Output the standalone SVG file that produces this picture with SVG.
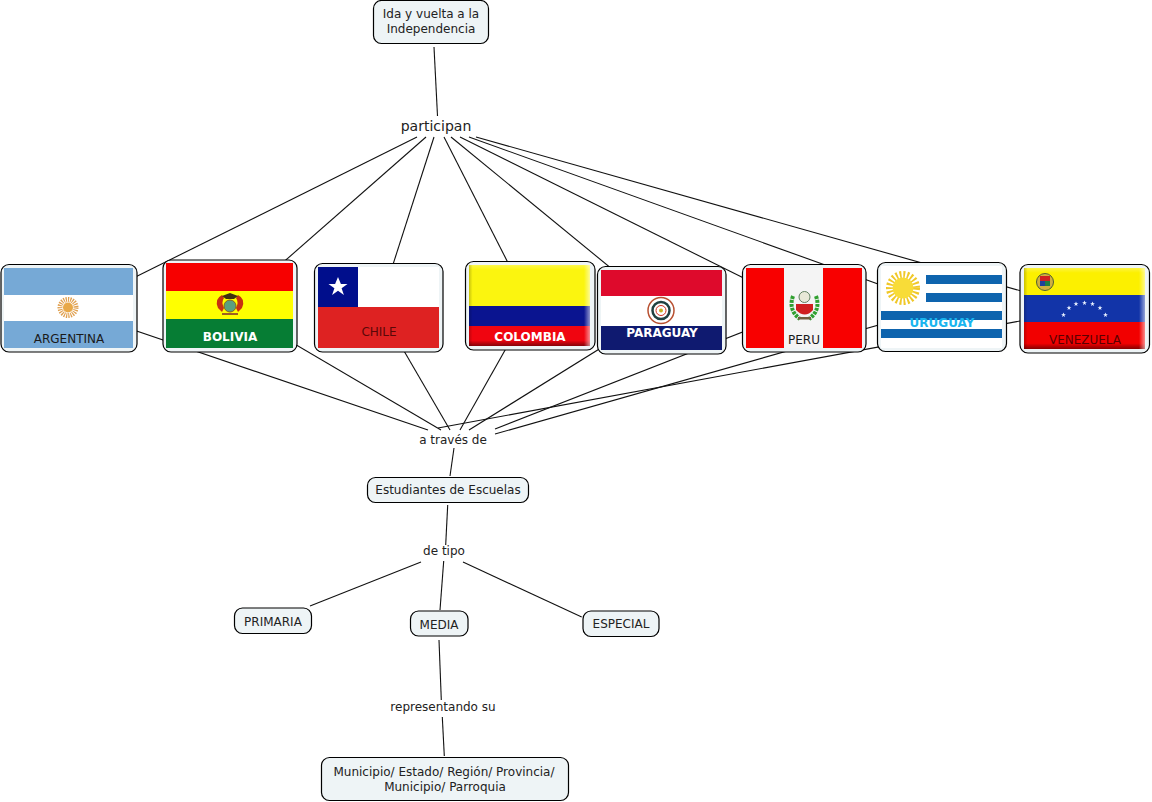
<svg xmlns="http://www.w3.org/2000/svg" xmlns:xlink="http://www.w3.org/1999/xlink" width="1152" height="802" viewBox="0 0 1152 802">
<style>
.box{fill:#EEF4F6;stroke:#000;stroke-width:1.2}
.c line{stroke:#111;stroke-width:1.1}
text{font-family:"DejaVu Sans",Verdana,sans-serif;font-size:12px;fill:#222;text-anchor:middle}
.b{font-weight:bold;fill:#fff;font-size:12px}
.k{fill:#1a1a1a}
</style>
<defs>
<linearGradient id="shB" x1="0" y1="0" x2="0" y2="1"><stop offset="0" stop-color="#fff" stop-opacity=".25"/><stop offset=".06" stop-color="#fff" stop-opacity="0"/><stop offset=".93" stop-color="#000" stop-opacity="0"/><stop offset="1" stop-color="#000" stop-opacity=".45"/></linearGradient>
<linearGradient id="shR" x1="0" y1="0" x2="1" y2="0"><stop offset="0" stop-color="#000" stop-opacity=".2"/><stop offset=".03" stop-color="#000" stop-opacity="0"/><stop offset=".95" stop-color="#fff" stop-opacity="0"/><stop offset="1" stop-color="#fff" stop-opacity=".55"/></linearGradient>
<polygon id="st" points="0,-1 .29,-.31 .95,-.31 .36,.12 .59,.81 0,.38 -.59,.81 -.36,.12 -.95,-.31 -.29,-.31"/>
</defs>
<g class="c" id="connectors">
<line x1="434" y1="47" x2="437.500" y2="116"/>
<line x1="417" y1="137" x2="69" y2="310"/>
<line x1="426" y1="137" x2="230" y2="309"/>
<line x1="434" y1="137" x2="379" y2="308"/>
<line x1="444" y1="137" x2="530" y2="306"/>
<line x1="451" y1="137" x2="662" y2="310"/>
<line x1="460" y1="137" x2="804" y2="308"/>
<line x1="469" y1="137" x2="942" y2="307"/>
<line x1="476" y1="137" x2="1085" y2="309"/>
<line x1="69" y1="308" x2="428" y2="430"/>
<line x1="230" y1="306" x2="441" y2="430"/>
<line x1="379" y1="308" x2="450" y2="430"/>
<line x1="530" y1="306" x2="460" y2="430"/>
<line x1="662" y1="310" x2="469" y2="430"/>
<line x1="804" y1="308" x2="495" y2="429"/>
<line x1="942" y1="307" x2="495" y2="434"/>
<line x1="1085" y1="309" x2="438" y2="428"/>
<line x1="454" y1="448" x2="450" y2="476"/>
<line x1="447.700" y1="505" x2="445.700" y2="545"/>
<line x1="443.700" y1="561" x2="440" y2="610"/>
<line x1="421" y1="562" x2="310" y2="606"/>
<line x1="463" y1="562" x2="581.700" y2="617"/>
<line x1="439" y1="640" x2="441.300" y2="700"/>
<line x1="442.300" y1="717" x2="444.300" y2="756"/>
</g>
<g id="n-ida"><rect class="box" x="373.500" y="0.500" width="115" height="43" rx="8"/><text x="431" y="18">Ida y vuelta a la</text><text x="431" y="33">Independencia</text></g>
<g id="l-participan"><text x="436" y="131" style="font-size:14px">participan</text></g>

<g id="n-argentina"><rect class="box" x="1" y="264.500" width="136" height="87.500" rx="8"/>
<rect x="4" y="268" width="129" height="80" fill="#76A9D6"/><rect x="4" y="295" width="129" height="26" fill="#fff"/>
<circle cx="68" cy="307.500" r="8" fill="none" stroke="#E0A050" stroke-width="5" stroke-dasharray="1.200 1"/><circle cx="68" cy="307.500" r="5" fill="#E8A848"/>
<text x="69" y="343" class="k">ARGENTINA</text></g>

<g id="n-bolivia"><rect class="box" x="163" y="260" width="134" height="92" rx="8"/>
<rect x="166" y="263" width="127" height="28" fill="#F70000"/><rect x="166" y="291" width="127" height="28" fill="#FFFF00"/><rect x="166" y="319" width="127" height="29" fill="#067D34"/>
<path d="M218 308q-4-9 4-13l2 3q-3 4 0 10l-2 4zM242 308q4-9-4-13l-2 3q3 4 0 10l2 4z" fill="#C83010"/><circle cx="230" cy="306" r="6" fill="#5AA080" stroke="#886020"/><path d="M222 296l8-3 8 3-4 3h-8z" fill="#403010"/><path d="M222 313h16v2h-16z" fill="#A06020"/>
<text x="230" y="341" class="b">BOLIVIA</text></g>

<g id="n-chile"><rect class="box" x="314.500" y="263.500" width="128.500" height="88.500" rx="8"/>
<rect x="318" y="267" width="121" height="40" fill="#fff"/><rect x="318" y="267" width="40" height="40" fill="#000E8C"/><rect x="318" y="307" width="121" height="41" fill="#DE2222"/>
<use xlink:href="#st" transform="translate(338 287) scale(10)" fill="#fff"/>
<text x="379" y="336" style="fill:#5a0808">CHILE</text></g>

<g id="n-colombia"><rect class="box" x="465.500" y="261.500" width="129.500" height="88.500" rx="8"/>
<rect x="469" y="265" width="121" height="41" fill="#FBF50F"/><rect x="469" y="306" width="121" height="20" fill="#0A1490"/><rect x="469" y="326" width="121" height="20" fill="#F00510"/>
<rect x="469" y="265" width="121" height="81" fill="url(#shB)"/><rect x="469" y="265" width="121" height="81" fill="url(#shR)"/>
<text x="530" y="341" class="b">COLOMBIA</text></g>

<g id="n-paraguay"><rect class="box" x="597.500" y="266.500" width="128.500" height="87.500" rx="8"/>
<rect x="601" y="270" width="121" height="26" fill="#DE0A2C"/><rect x="601" y="296" width="121" height="30" fill="#fff"/><rect x="601" y="326" width="121" height="24" fill="#0F1A70"/>
<circle cx="661" cy="310.500" r="13" fill="#fff" stroke="#B85030" stroke-width="1.500"/><circle cx="661" cy="310.500" r="8.500" fill="none" stroke="#204040" stroke-width="2.500"/><circle cx="661" cy="310.500" r="5" fill="none" stroke="#D03020" stroke-width="1"/><circle cx="661" cy="310.500" r="2" fill="#C8B020"/>
<text x="662" y="337" class="b">PARAGUAY</text></g>

<g id="n-peru"><rect class="box" x="742.500" y="264.500" width="123.500" height="87.500" rx="8"/>
<rect x="746" y="268" width="116" height="80" fill="#F80000"/><rect x="784" y="268" width="39" height="80" fill="#F4F4F4"/>
<path d="M793 296q-5 14 7 23M816 296q5 14-7 23" fill="none" stroke="#30A030" stroke-width="4" stroke-dasharray="3 1"/><circle cx="804.500" cy="297" r="5.500" fill="#E8E8D8" stroke="#608060"/><path d="M796 304h17v6q-8 9-17 0z" fill="#D02020"/><path d="M798 317h13v2.500h-13z" fill="#706040"/>
<text x="804" y="344" class="k">PERU</text></g>

<g id="n-uruguay"><rect class="box" x="877.500" y="262.500" width="129" height="89" rx="8"/>
<rect x="881" y="266" width="121" height="82" fill="#fff"/>
<g fill="#0E64AE"><rect x="926" y="275" width="76" height="9"/><rect x="926" y="293" width="76" height="9"/><rect x="881" y="311" width="121" height="9"/><rect x="881" y="329" width="121" height="9"/></g>
<circle cx="903" cy="288" r="13" fill="none" stroke="#F0C828" stroke-width="8" stroke-dasharray="1.800 1.800"/><circle cx="903" cy="288" r="10.500" fill="#F8DC38"/>
<text x="942" y="327" class="b" style="fill:#19B5EF">URUGUAY</text></g>

<g id="n-venezuela"><rect class="box" x="1020" y="264.500" width="129.500" height="88.500" rx="8"/>
<rect x="1024" y="268" width="121" height="27" fill="#FCF000"/><rect x="1024" y="295" width="121" height="27" fill="#1234A8"/><rect x="1024" y="322" width="121" height="27" fill="#F20000"/>
<circle cx="1045" cy="282" r="8.500" fill="#D0B040" stroke="#506030"/><path d="M1040 276h10v5h-10z" fill="#D02020"/><path d="M1040 281h5v5h-5z" fill="#20409A"/><path d="M1045 281h5v5h-5z" fill="#208040"/>
<g fill="#E8F0FF"><use xlink:href="#st" transform="translate(1063.500 315) scale(2.600)"/><use xlink:href="#st" transform="translate(1069 308) scale(2.600)"/><use xlink:href="#st" transform="translate(1076 304) scale(2.600)"/><use xlink:href="#st" transform="translate(1084.500 303) scale(2.600)"/><use xlink:href="#st" transform="translate(1092.500 304) scale(2.600)"/><use xlink:href="#st" transform="translate(1100 308) scale(2.600)"/><use xlink:href="#st" transform="translate(1105.500 315) scale(2.600)"/></g>
<rect x="1024" y="268" width="121" height="81" fill="url(#shB)"/><rect x="1024" y="268" width="121" height="81" fill="url(#shR)"/>
<text x="1085" y="344" style="fill:#5a0000">VENEZUELA</text></g>

<g id="l-traves"><text x="453" y="444">a través de</text></g>
<g id="n-estudiantes"><rect class="box" x="367.500" y="477.500" width="161" height="25" rx="8"/><text x="448" y="494">Estudiantes de Escuelas</text></g>
<g id="l-tipo"><text x="444" y="555">de tipo</text></g>
<g id="n-primaria"><rect class="box" x="234.500" y="608" width="77" height="25.500" rx="8"/><text x="273" y="626">PRIMARIA</text></g>
<g id="n-media"><rect class="box" x="410.500" y="611" width="57.500" height="25" rx="8"/><text x="439" y="629">MEDIA</text></g>
<g id="n-especial"><rect class="box" x="583" y="611" width="76" height="25.500" rx="8"/><text x="621" y="628">ESPECIAL</text></g>
<g id="l-representando"><text x="443" y="711">representando su</text></g>
<g id="n-municipio"><rect class="box" x="321.500" y="757.500" width="247" height="43" rx="8"/><text x="444" y="776">Municipio/ Estado/ Región/ Provincia/</text><text x="445" y="791">Municipio/ Parroquia</text></g>
</svg>
